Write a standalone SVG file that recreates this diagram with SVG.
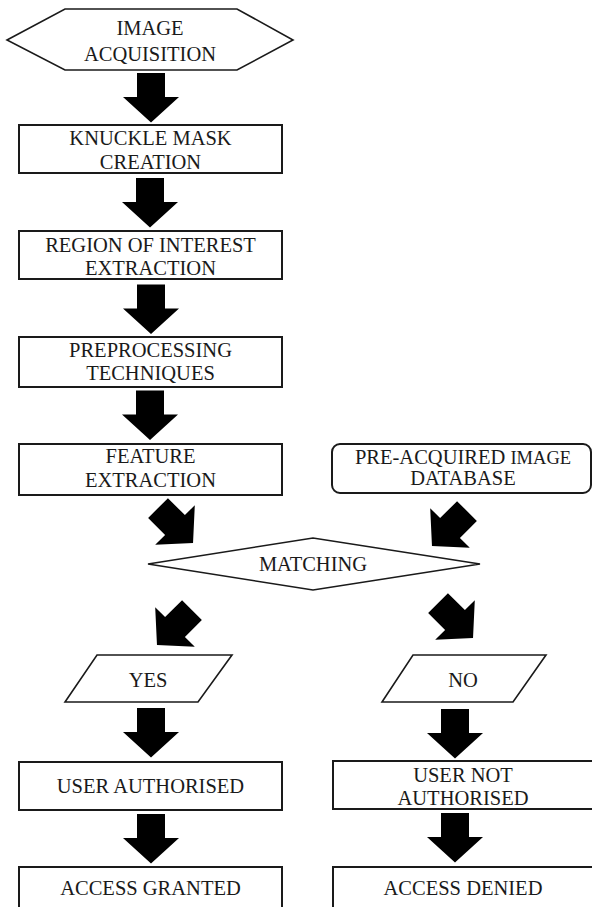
<svg xmlns="http://www.w3.org/2000/svg" xmlns:xlink="http://www.w3.org/1999/xlink" width="592" height="907" viewBox="0 0 592 907">
<style>
.shape{fill:#fff;stroke:#1a1a1a;stroke-width:2}
.thin{fill:#fff;stroke:#1a1a1a;stroke-width:1.6}
.t{font-family:"Liberation Serif","Times New Roman",serif;font-size:20.5px;fill:#1a1a1a;text-anchor:middle}
.arr{fill:#000}
</style>
<defs>
<polygon id="arrow" points="-14,-24 14,-24 14,0 28,0 0,25.5 -28,0 -14,0"/>
</defs>
<rect width="592" height="907" fill="#fff"/>
<g id="connectors" class="arr">
<use xlink:href="#arrow" transform="translate(151,97)"/>
<use xlink:href="#arrow" transform="translate(150,202)"/>
<use xlink:href="#arrow" transform="translate(151,308.5)"/>
<use xlink:href="#arrow" transform="translate(150,414.5)"/>
<use xlink:href="#arrow" transform="translate(175,525) rotate(-45)"/>
<use xlink:href="#arrow" transform="translate(450,528) rotate(45)"/>
<use xlink:href="#arrow" transform="translate(175,627) rotate(45)"/>
<use xlink:href="#arrow" transform="translate(455,620) rotate(-45)"/>
<use xlink:href="#arrow" transform="translate(151,732)"/>
<use xlink:href="#arrow" transform="translate(151,838)"/>
<use xlink:href="#arrow" transform="translate(455,733)"/>
<use xlink:href="#arrow" transform="translate(455,837)"/>
</g>
<g id="n-image-acquisition">
<polygon class="thin" points="7,40 65,9 237,9 293,40 237,70 65,70"/>
<text class="t" x="150" y="35">IMAGE</text>
<text class="t" x="150" y="61">ACQUISITION</text>
</g>
<g id="n-knuckle-mask">
<rect class="shape" x="19" y="125" width="263" height="48"/>
<text class="t" x="150.5" y="145">KNUCKLE MASK</text>
<text class="t" x="150.5" y="169">CREATION</text>
</g>
<g id="n-roi">
<rect class="shape" x="19" y="231" width="263" height="48"/>
<text class="t" x="150.5" y="252">REGION OF INTEREST</text>
<text class="t" x="150.5" y="275">EXTRACTION</text>
</g>
<g id="n-preprocessing">
<rect class="shape" x="19" y="337" width="263" height="50"/>
<text class="t" x="150.5" y="357">PREPROCESSING</text>
<text class="t" x="150.5" y="380">TECHNIQUES</text>
</g>
<g id="n-feature">
<rect class="shape" x="19" y="444" width="263" height="51"/>
<text class="t" x="150.5" y="463">FEATURE</text>
<text class="t" x="150.5" y="487">EXTRACTION</text>
</g>
<g id="n-database">
<rect class="shape" x="332" y="444" width="259" height="49" rx="8"/>
<text class="t" x="463" y="464">PRE-ACQUIRED <tspan font-size="18.5">IMAGE</tspan></text>
<text class="t" x="463" y="485">DATABASE</text>
</g>
<g id="n-matching">
<polygon class="thin" points="148,564 313,538 480,564 313,590"/>
<text class="t" x="313" y="571">MATCHING</text>
</g>
<g id="n-yes">
<polygon class="thin" points="97,655 232,655 198,702 65,702"/>
<text class="t" x="148" y="687">YES</text>
</g>
<g id="n-no">
<polygon class="thin" points="413,655 546,655 513,702 382,702"/>
<text class="t" x="463" y="687">NO</text>
</g>
<g id="n-user-authorised">
<rect class="shape" x="19" y="762" width="263" height="48"/>
<text class="t" x="150.5" y="793">USER AUTHORISED</text>
</g>
<g id="n-user-not-authorised">
<rect class="shape" x="333" y="761" width="260" height="48"/>
<text class="t" x="463" y="782">USER NOT</text>
<text class="t" x="463" y="805">AUTHORISED</text>
</g>
<g id="n-access-granted">
<rect class="shape" x="19" y="867" width="263" height="48"/>
<text class="t" x="150.5" y="895">ACCESS GRANTED</text>
</g>
<g id="n-access-denied">
<rect class="shape" x="333" y="867" width="260" height="48"/>
<text class="t" x="463" y="895">ACCESS DENIED</text>
</g>
</svg>
